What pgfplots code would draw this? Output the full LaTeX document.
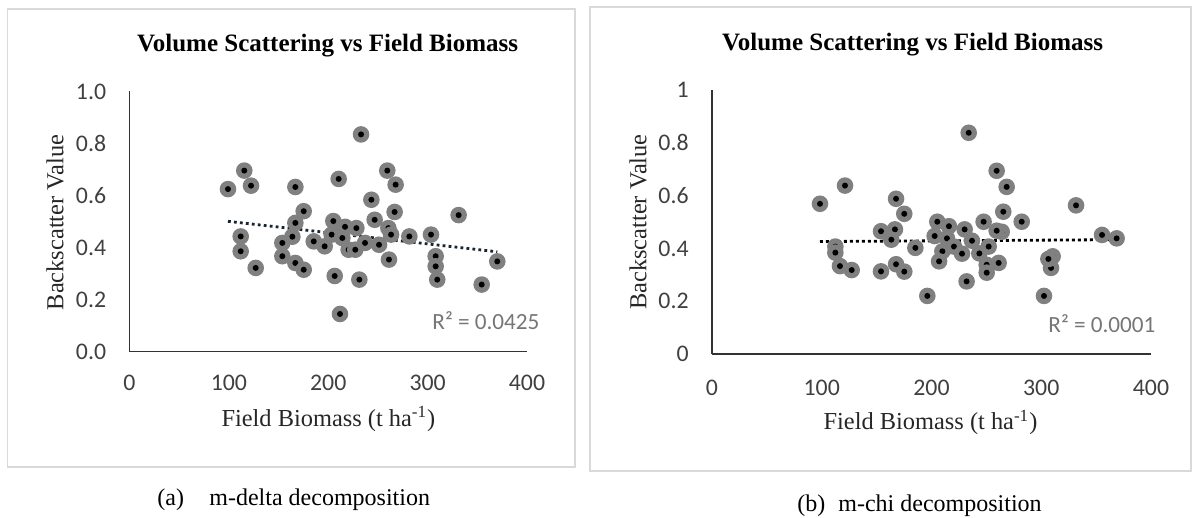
\documentclass[border=0pt]{standalone}
\usepackage{pgfplots}
\pgfplotsset{compat=1.18}
\usepackage{fontspec}
\setmainfont{Liberation Serif}
\newfontfamily\carlito{Carlito}
\definecolor{ring}{RGB}{128,128,128}
\definecolor{trend}{RGB}{25,35,50}
\definecolor{ticktxt}{RGB}{64,64,64}
\definecolor{rsq}{RGB}{118,118,118}
\definecolor{framec}{RGB}{217,217,217}

\pgfdeclareplotmark{ringdot}{%
  \pgfpathcircle{\pgfpointorigin}{4.15pt}%
  \pgfsetfillcolor{ring}\pgfusepath{fill}%
  \pgfpathcircle{\pgfpointorigin}{1.5pt}%
  \pgfsetfillcolor{black}\pgfusepath{fill}%
}

\pgfplotstableread{
x y
99.1 0.625
115.5 0.696
122.3 0.638
111.9 0.443
111.9 0.386
127.0 0.322
166.9 0.633
175.3 0.540
166.9 0.495
163.9 0.442
153.8 0.418
153.8 0.367
166.9 0.341
175.3 0.315
185.4 0.424
196.4 0.405
205.1 0.502
210.5 0.664
203.4 0.450
214.2 0.437
216.9 0.480
228.3 0.475
220.5 0.392
227.2 0.392
237.0 0.418
243.4 0.584
246.7 0.507
251.1 0.411
260.5 0.475
263.2 0.450
259.4 0.696
267.8 0.642
266.8 0.537
261.1 0.354
281.6 0.443
303.4 0.450
308.1 0.367
308.1 0.328
309.7 0.277
331.2 0.525
370.1 0.347
354.4 0.258
206.5 0.291
231.3 0.277
211.8 0.145
233.0 0.835
}\deltadata

\pgfplotstableread{
x y
98.4 0.569
121.2 0.638
112.4 0.407
112.4 0.384
116.6 0.333
127.3 0.318
154.0 0.465
166.7 0.472
163.4 0.433
167.7 0.588
175.2 0.531
154.0 0.313
167.7 0.340
175.2 0.312
185.3 0.402
196.2 0.220
205.3 0.501
215.9 0.484
202.9 0.447
214.1 0.438
209.9 0.389
206.9 0.351
220.5 0.407
227.8 0.380
230.2 0.472
236.9 0.429
233.9 0.838
232.0 0.275
243.6 0.381
247.5 0.501
252.1 0.407
250.3 0.338
250.3 0.308
261.2 0.345
259.4 0.694
268.5 0.633
265.4 0.539
264.0 0.463
259.4 0.467
282.2 0.501
331.7 0.563
310.4 0.370
308.9 0.326
306.5 0.360
302.5 0.220
355.4 0.451
368.7 0.438
}\chidata

\pgfplotsset{
  myax/.style={
    scale only axis, axis lines=left,
    axis line style={-, draw=black!80, line width=0.65pt},
    xmin=0,xmax=400,ymin=0,ymax=1, clip=false,
    xtick={0,100,200,300,400}, ytick={0,0.2,0.4,0.6,0.8,1},
    xticklabels={0,100,200,300,400},
    major tick length=0pt, tick style={draw=none},
    ticklabel style={font=\carlito\fontsize{11.9}{14}\selectfont, text=ticktxt},
    yticklabel style={anchor=east, inner sep=0pt, xshift=-11.5pt},
    xticklabel style={anchor=base, inner sep=0pt},
    anchor=south west,
  },
  pts/.style={only marks, mark=ringdot},
  trendl/.style={no marks, draw=trend, line width=1.4pt, dash pattern=on 1.4pt off 1.6pt},
}

\begin{document}
\begin{tikzpicture}
\useasboundingbox (0,0) rectangle (598pt,-259pt);
\begin{scope}[x=0.5pt,y=-0.5pt]
\draw[framec, line width=0.75pt] (7.5,9) rectangle (575,467);
\draw[framec, line width=0.75pt] (590,7) rectangle (1191,471);
\node[anchor=base west, inner sep=0, font=\bfseries\fontsize{12.5}{14}\selectfont] at (136.7,51.7) {Volume Scattering vs Field Biomass};
\node[anchor=base west, inner sep=0, font=\bfseries\fontsize{12.5}{14}\selectfont] at (721.7,50.5) {Volume Scattering vs Field Biomass};
\node[rotate=90, inner sep=0, text=black!85, font=\fontsize{12.2}{14}\selectfont] at (55,222.5) {Backscatter Value};
\node[rotate=90, inner sep=0, text=black!85, font=\fontsize{12.2}{14}\selectfont] at (638,222) {Backscatter Value};
\node[anchor=base, inner sep=0, text=black!85, font=\fontsize{12.2}{14}\selectfont] at (328.4,426.7) {Field Biomass (t ha\textsuperscript{-1})};
\node[anchor=base, inner sep=0, text=black!85, font=\fontsize{12.2}{14}\selectfont] at (930.5,430) {Field Biomass (t ha\textsuperscript{-1})};
\node[anchor=base west, inner sep=0, text=rsq, font=\carlito\fontsize{11.6}{14}\selectfont] at (432,330) {R² = 0.0425};
\node[anchor=base west, inner sep=0, text=rsq, font=\carlito\fontsize{11.6}{14}\selectfont] at (1048,332.7) {R² = 0.0001};
\node[anchor=base west, inner sep=0, font=\fontsize{12}{14}\selectfont] at (157,505.5) {(a)};
\node[anchor=base west, inner sep=0, font=\fontsize{12}{14}\selectfont] at (209,505.5) {m-delta decomposition};
\node[anchor=base west, inner sep=0, font=\fontsize{12}{14}\selectfont] at (797,511.5) {(b)};
\node[anchor=base west, inner sep=0, font=\fontsize{12}{14}\selectfont] at (838,511.5) {m-chi decomposition};
\end{scope}

\begin{axis}[myax, at={(64.75pt,-175.85pt)}, width=198.75pt, height=130.1pt,
  yticklabels={0.0,0.2,0.4,0.6,0.8,1.0},
  xticklabel style={yshift=-19.2pt}]
\addplot[pts] table {\deltadata};
\addplot[trendl] coordinates {(99.1,0.501) (370.1,0.384)};
\end{axis}

\begin{axis}[myax, at={(356pt,-177pt)}, width=219.5pt, height=132pt,
  yticklabels={0,0.2,0.4,0.6,0.8,1},
  xticklabel style={yshift=-20.5pt}]
\addplot[pts] table {\chidata};
\addplot[trendl, draw=black] coordinates {(98.4,0.426) (368.7,0.433)};
\end{axis}
\end{tikzpicture}
\end{document}
